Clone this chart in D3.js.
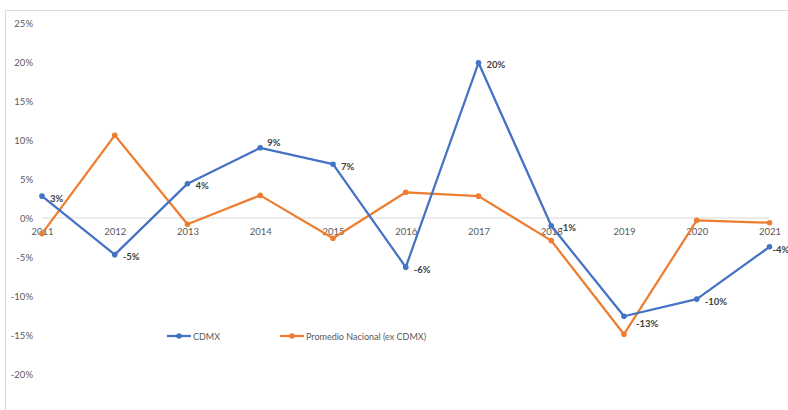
<!DOCTYPE html>
<html>
<head>
<meta charset="utf-8">
<script src="https://cdn.jsdelivr.net/npm/d3@7"></script>
<style>
  html, body { margin: 0; padding: 0; background: #fff; }
  svg { display: block; font-family: Lato, "Open Sans", sans-serif; }
</style>
</head>
<body>
<svg id="chart" width="788" height="410"></svg>
<script>
// Annual variation (%), 2011–2021
const years = ["2011","2012","2013","2014","2015","2016","2017","2018","2019","2020","2021"];
const cdmx = [2.8, -4.7, 4.4, 9.0, 6.9, -6.3, 19.9, -1.0, -12.6, -10.4, -3.7];
const nacional = [-2.0, 10.6, -0.8, 2.9, -2.6, 3.3, 2.8, -2.9, -14.9, -0.3, -0.6];
const yTicks = [25, 20, 15, 10, 5, 0, -5, -10, -15, -20];
const seriesNames = ["CDMX", "Promedio Nacional (ex CDMX)"];
const seriesColors = ["#4472C4", "#ED7D31"];

const svg = d3.select("#chart");

// Chart area frame
svg.append("path")
  .attr("d", "M5.5,415 V10.5 H795")
  .attr("fill", "none")
  .attr("stroke", "#d9d9d9")
  .attr("stroke-width", 1);

const x = d3.scalePoint().domain(years).range([42, 769.5]);
const y = d3.scaleLinear().domain([-20, 25]).range([374, 23]);

// Y axis labels
const yAxis = d3.axisLeft(y).tickValues(yTicks).tickSize(0).tickPadding(0)
  .tickFormat(d => d + "%");
svg.append("g")
  .attr("transform", "translate(33,0)")
  .call(yAxis)
  .call(g => g.select(".domain").remove())
  .selectAll("text")
  .attr("fill", "#595959")
  .attr("font-size", 9.5)
  .attr("font-family", "Lato, sans-serif");

// Zero line
svg.append("line")
  .attr("x1", x(years[0])).attr("x2", x(years[years.length - 1]))
  .attr("y1", y(0)).attr("y2", y(0))
  .attr("stroke", "#d9d9d9").attr("stroke-width", 1);

// X axis labels at zero line
const xAxis = d3.axisBottom(x).tickSize(0).tickPadding(10);
svg.append("g")
  .attr("transform", `translate(0,${y(0)})`)
  .call(xAxis)
  .call(g => g.select(".domain").remove())
  .selectAll("text")
  .attr("fill", "#595959")
  .attr("font-size", 9.5)
  .attr("font-family", "Lato, sans-serif");

const line = d3.line().x((d, i) => x(years[i])).y(d => y(d));

// Orange series drawn first, blue on top
[[nacional, seriesColors[1]], [cdmx, seriesColors[0]]].forEach(([vals, color]) => {
  svg.append("path")
    .datum(vals)
    .attr("d", line)
    .attr("fill", "none")
    .attr("stroke", color)
    .attr("stroke-width", 2.25)
    .attr("stroke-linejoin", "round");
  svg.append("g").selectAll("circle")
    .data(vals)
    .join("circle")
    .attr("cx", (d, i) => x(years[i]))
    .attr("cy", d => y(d))
    .attr("r", 2.8)
    .attr("fill", color);
});

// Value labels for CDMX (a few nudged clear of the lines)
const labelNudge = { "2014": [7, -2], "2019": [12, 11], "2021": [3, 6] };
svg.append("g").selectAll("text")
  .data(cdmx)
  .join("text")
  .attr("x", (d, i) => x(years[i]) + (labelNudge[years[i]] ? labelNudge[years[i]][0] : 8))
  .attr("y", (d, i) => y(d) + (labelNudge[years[i]] ? labelNudge[years[i]][1] : 5.5))
  .attr("font-size", 9.5)
  .attr("font-weight", "bold")
  .attr("fill", "#404040")
  .text(d => Math.round(d) + "%");

// Legend
const legend = svg.append("g");
const legendX = [167, 280];
seriesNames.forEach((name, i) => {
  const g = legend.append("g").attr("transform", `translate(${legendX[i]},336)`);
  g.append("line").attr("x1", 0).attr("x2", 24).attr("y1", 0).attr("y2", 0)
    .attr("stroke", seriesColors[i]).attr("stroke-width", 2.25);
  g.append("circle").attr("cx", 12).attr("cy", 0).attr("r", 2.8).attr("fill", seriesColors[i]);
  g.append("text").attr("x", 26).attr("y", 3.5)
    .attr("font-size", 9).attr("fill", "#595959").text(name);
});
</script>
</body>
</html>
